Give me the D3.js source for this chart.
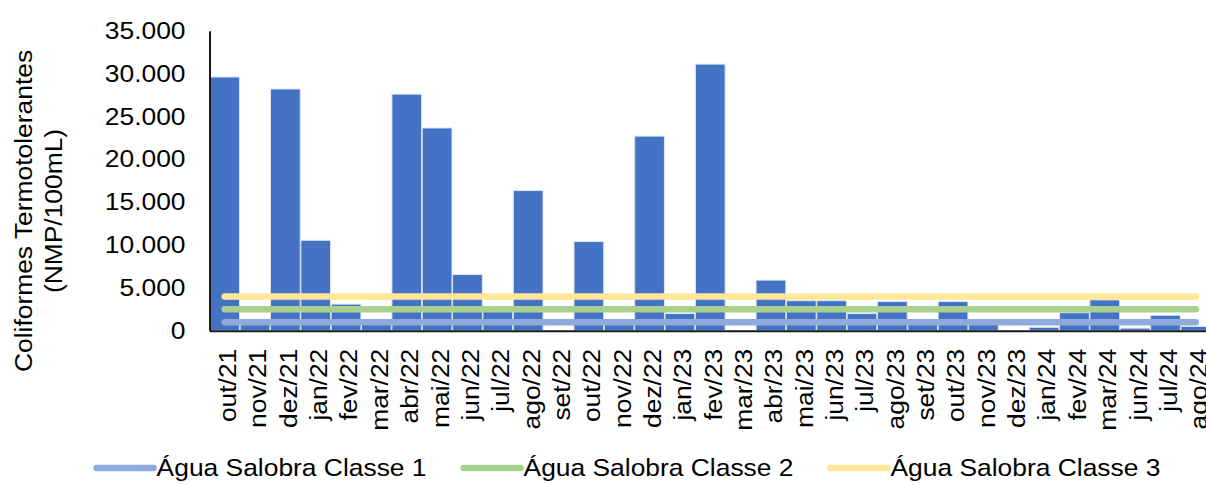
<!DOCTYPE html>
<html><head><meta charset="utf-8">
<script src="https://cdn.jsdelivr.net/npm/d3@7"></script>
<style>body{margin:0;background:#fff;}svg{display:block;font-family:Arial,"Liberation Sans",sans-serif;}</style>
</head><body><svg id="c" width="1206" height="485"></svg>
<script>
const categories = ["out/21","nov/21","dez/21","jan/22","fev/22","mar/22","abr/22","mai/22","jun/22","jul/22","ago/22","set/22","out/22","nov/22","dez/22","jan/23","fev/23","mar/23","abr/23","mai/23","jun/23","jul/23","ago/23","set/23","out/23","nov/23","dez/23","jan/24","fev/24","mar/24","jun/24","jul/24","ago/24"];
const coliformes = [29600,900,28200,10550,3100,900,27600,23650,6550,2500,16350,0,10400,900,22700,2000,31100,0,5900,3500,3500,2000,3400,900,3400,900,0,400,2100,3600,300,1800,500];
const seriesNames = ["Água Salobra Classe 1","Água Salobra Classe 2","Água Salobra Classe 3"];
const limits = [1000,2500,4000];
const yTicks = [0,5000,10000,15000,20000,25000,30000,35000];
const yTickLabels = ["0","5.000","10.000","15.000","20.000","25.000","30.000","35.000"];
const yTitle = ["Coliformes Termotolerantes","(NMP/100mL)"];

const colors = {bar:"#4472C4", lines:["#8FAADC","#A9D18E","#FFE699"]};
const FS = 24, SX = 1.1;
const FF = "Arial, 'Liberation Sans', sans-serif";
const svg = d3.select("#c");
const x = d3.scaleBand().domain(categories).range([209.5,1211]).paddingInner(0.02).paddingOuter(0.01);
const y = d3.scaleLinear().domain([0,35000]).range([330.7,30.7]);

// bars
svg.append("g").selectAll("rect").data(categories).join("rect")
  .attr("x",d=>x(d)).attr("width",x.bandwidth())
  .attr("y",(d,i)=>y(coliformes[i])).attr("height",(d,i)=>y(0)-y(coliformes[i]))
  .attr("fill",colors.bar).attr("stroke","#dde6f5").attr("stroke-width",1);

// limit lines
const line = d3.line().x(d=>x(d.c)+x.bandwidth()/2).y(d=>y(d.v));
limits.forEach((L,k)=>{
  svg.append("path").datum(categories.map(c=>({c,v:L})))
    .attr("d",line).attr("fill","none").attr("stroke",colors.lines[k])
    .attr("stroke-width",6.5).attr("stroke-linecap","round");
});

// axes
const ya = svg.append("g").attr("transform","translate(209.5,0)")
  .call(d3.axisLeft(y).tickValues(yTicks).tickFormat((d,i)=>yTickLabels[i]).tickSize(0).tickPadding(24));
ya.select(".domain").attr("stroke","#1a1a1a").attr("stroke-width",2);
ya.selectAll("text").attr("font-size",FS).attr("fill","#000").attr("font-family",FF)
  .attr("x",0).attr("transform",`translate(-24,0) scale(${SX},1)`);

const xa = svg.append("g").attr("transform","translate(0,"+y(0)+")")
  .call(d3.axisBottom(x).tickSize(0).tickSizeOuter(0));
xa.select(".domain").attr("stroke","#1a1a1a").attr("stroke-width",2);
xa.selectAll("text").attr("font-size",FS).attr("fill","#000").attr("font-family",FF)
  .attr("text-anchor","end").attr("x",0).attr("y",0).attr("dy","0.35em")
  .attr("transform",`rotate(-90) translate(-18,3) scale(${SX},1)`);

// y title
const yt = svg.append("text").attr("transform",`translate(32,211) rotate(-90) scale(${SX},1)`)
  .attr("text-anchor","middle").attr("font-size",FS).attr("fill","#000");
yt.append("tspan").attr("x",0).attr("y",0).text(yTitle[0]);
yt.append("tspan").attr("x",0).attr("y",30).text(yTitle[1]);

// legend
const lg = svg.append("g");
const items = [];
seriesNames.forEach((n,k)=>{
  const g = lg.append("g");
  g.append("line").attr("x1",3).attr("x2",60).attr("y1",0).attr("y2",0)
    .attr("stroke",colors.lines[k]).attr("stroke-width",6.5).attr("stroke-linecap","round");
  const t = g.append("text").attr("transform",`translate(63,0) scale(${SX},1)`).attr("dy","0.35em")
    .attr("font-size",FS).attr("fill","#000").text(n);
  const w = 63 + SX*t.node().getComputedTextLength();
  items.push({g,w});
});
const gap = 34;
const total = d3.sum(items,d=>d.w)+gap*(items.length-1);
let start = 627 - total/2;
items.forEach(it=>{it.g.attr("transform",`translate(${start},468)`); start += it.w+gap;});
</script></body></html>
